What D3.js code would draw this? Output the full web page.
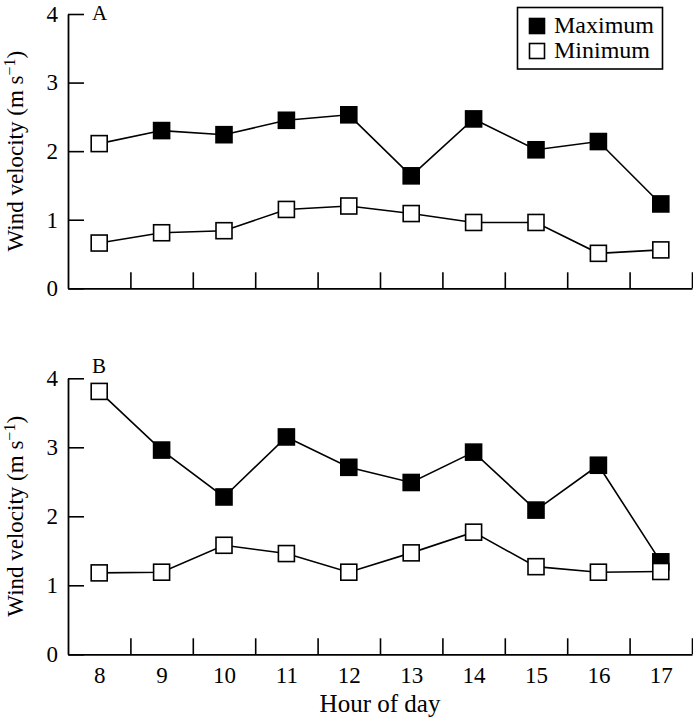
<!DOCTYPE html>
<html>
<head>
<meta charset="utf-8">
<script src="https://cdn.jsdelivr.net/npm/d3@7"></script>
<style>
  html, body { margin: 0; padding: 0; background: #fff; }
  svg { display: block; }
  svg text { font-family: "Liberation Serif", "Times New Roman", Times, serif !important; fill: #000; }
</style>
</head>
<body>
<svg id="chart" width="693" height="719" font-family="Liberation Serif, Times New Roman, serif"></svg>
<script>
// ---- data ----
const hours = [8, 9, 10, 11, 12, 13, 14, 15, 16, 17];
const yTicks = [0, 1, 2, 3, 4];
const panelLabels = ["A", "B"];
const seriesNames = ["Maximum", "Minimum"];
const maxA = [2.11, 2.30, 2.24, 2.45, 2.53, 1.64, 2.47, 2.02, 2.14, 1.23];
const minA = [0.66, 0.81, 0.84, 1.15, 1.20, 1.09, 0.96, 0.96, 0.51, 0.56];
const maxB = [3.81, 2.96, 2.28, 3.15, 2.71, 2.49, 2.93, 2.09, 2.74, 1.34];
const minB = [1.18, 1.19, 1.58, 1.46, 1.19, 1.47, 1.77, 1.27, 1.19, 1.20];
const xLabel = "Hour of day";

// ---- layout ----
const FONT = "'Liberation Serif', 'Times New Roman', Times, serif";
const svg = d3.select("#chart");
const left = 68, right = 692;
const panels = [
  { label: panelLabels[0], max: maxA, min: minA, top: 14, bottom: 288.3, labelY: 19.5, showX: false },
  { label: panelLabels[1], max: maxB, min: minB, top: 378.3, bottom: 654.3, labelY: 372.5, showX: true }
];

const x = d3.scaleLinear().domain([7.5, 17.5]).range([left, right]);
const boundaries = hours.map(h => h + 0.5);
const msize = 16;

function styleText(sel, size) {
  sel.attr("font-family", FONT).style("font-family", FONT).style("font-size", size + "px").attr("fill", "#000");
}

panels.forEach((p, pi) => {
  const y = d3.scaleLinear().domain([0, 4]).range([p.bottom, p.top]);
  const g = svg.append("g");

  // y axis
  const ya = g.append("g").attr("transform", `translate(${left},0)`)
    .call(d3.axisLeft(y).tickValues(yTicks).tickFormat(d3.format("d"))
      .tickSizeInner(-16).tickSizeOuter(0).tickPadding(10));
  // x axis
  const xa = g.append("g").attr("transform", `translate(0,${p.bottom})`)
    .call(d3.axisBottom(x).tickValues(boundaries).tickFormat("")
      .tickSizeInner(-16).tickSizeOuter(0));
  [ya, xa].forEach(a => {
    a.attr("font-family", FONT);
    a.select(".domain").attr("stroke", "#000").attr("stroke-width", 1.8);
    a.selectAll(".tick line").attr("stroke", "#000").attr("stroke-width", 1.6);
    styleText(a.selectAll("text"), 23);
  });

  if (p.showX) {
    const xl = g.append("g").attr("transform", `translate(0,${p.bottom})`)
      .call(d3.axisBottom(x).tickValues(hours).tickFormat(d3.format("d")).tickSize(0).tickPadding(12));
    xl.attr("font-family", FONT);
    xl.select(".domain").remove();
    styleText(xl.selectAll("text"), 23);
    styleText(g.append("text").attr("x", (left + right) / 2).attr("y", p.bottom + 57.5)
      .attr("text-anchor", "middle").text(xLabel), 25);
  }

  // panel label
  styleText(g.append("text").attr("x", 92).attr("y", p.labelY).text(p.label), 21);

  // y title
  const yt = g.append("text")
    .attr("transform", `translate(23,${(p.top + p.bottom) / 2}) rotate(-90)`)
    .attr("text-anchor", "middle");
  styleText(yt, 23);
  yt.append("tspan").text("Wind velocity (m s");
  yt.append("tspan").attr("baseline-shift", "super").style("font-size", "16px").text("\u22121");
  yt.append("tspan").text(")");

  // lines
  const line = d3.line().x((d, i) => x(hours[i])).y(d => y(d));
  [p.max, p.min].forEach(s => {
    g.append("path").datum(s).attr("d", line).attr("fill", "none")
      .attr("stroke", "#000").attr("stroke-width", 1.6);
  });

  // markers: maximum (first point drawn open as in the original), then minimum on top
  g.selectAll(".mx").data(p.max).enter().append("rect")
    .attr("x", (d, i) => x(hours[i]) - msize / 2).attr("y", d => y(d) - msize / 2)
    .attr("width", msize).attr("height", msize)
    .attr("fill", (d, i) => i === 0 ? "#fff" : "#000")
    .attr("stroke", "#000").attr("stroke-width", 1.6);
  g.selectAll(".mn").data(p.min).enter().append("rect")
    .attr("x", (d, i) => x(hours[i]) - msize / 2).attr("y", d => y(d) - msize / 2)
    .attr("width", msize).attr("height", msize)
    .attr("fill", "#fff").attr("stroke", "#000").attr("stroke-width", 1.6);
});

// legend
const lg = svg.append("g");
lg.append("rect").attr("x", 517.5).attr("y", 7.5).attr("width", 145).attr("height", 61.5)
  .attr("fill", "#fff").attr("stroke", "#000").attr("stroke-width", 1.6);
seriesNames.forEach((name, i) => {
  lg.append("rect").attr("x", 529.5).attr("y", 18.5 + i * 25).attr("width", 15).attr("height", 15)
    .attr("fill", i === 0 ? "#000" : "#fff").attr("stroke", "#000").attr("stroke-width", 1.6);
  styleText(lg.append("text").attr("x", 554).attr("y", 32.5 + i * 25.5).text(name), 24);
});
</script>
</body>
</html>
